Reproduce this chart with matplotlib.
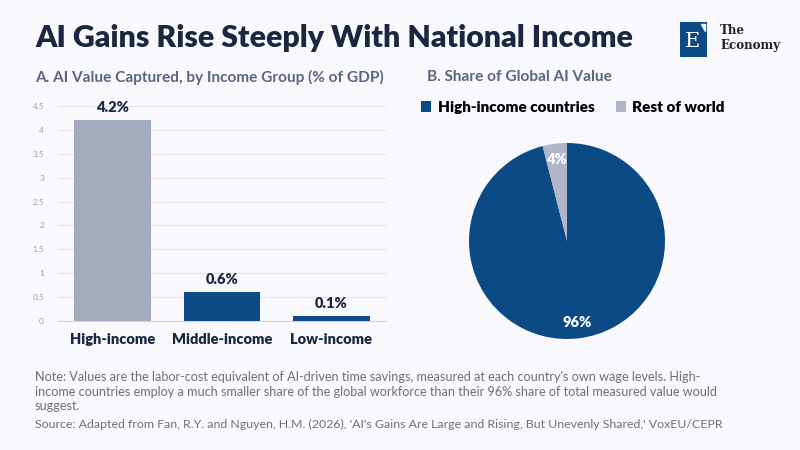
import matplotlib
matplotlib.use("Agg")
import matplotlib.pyplot as plt
from matplotlib.patches import Rectangle

categories = ["High-income", "Middle-income", "Low-income"]
values = [4.2, 0.6, 0.1]
value_labels = ["4.2%", "0.6%", "0.1%"]
yticks = [0, 0.5, 1, 1.5, 2, 2.5, 3, 3.5, 4, 4.5]

pie_labels = ["High-income countries", "Rest of world"]
pie_values = [96, 4]

BG = "#f8f8fd"
NAVY = "#0c4a86"
GRAY_BAR = "#a2aabe"
GRAY_PIE = "#b0b5c7"
DARK = "#1b2640"
SUB = "#5b6580"
NOTE = "#6b7080"

plt.rcParams['font.family'] = ['Lato', 'DejaVu Sans']

W, H = 800, 450
fig = plt.figure(figsize=(8, 4.5), dpi=100, facecolor=BG)

def fx(x): return x / W
def fy(y): return 1 - y / H

fig.text(fx(35), fy(38), "AI Gains Rise Steeply With National Income", fontsize=21.8,
         fontweight='heavy', color=DARK, va='center', ha='left')

# logo
logo = fig.add_axes([fx(680), fy(57), 27 / W, 35 / H])
logo.set_xlim(0, 1); logo.set_ylim(0, 1); logo.axis('off')
logo.add_patch(Rectangle((0, 0), 1, 1, color=NAVY))
logo.text(0.45, 0.45, "E", color='white', fontsize=15, family='DejaVu Serif', ha='center', va='center')
logo.add_patch(plt.Polygon([[0.78, 0.93], [0.93, 0.93], [0.93, 0.75]], color='white'))
fig.text(fx(720), fy(31), "The", fontsize=8.6, family='DejaVu Serif', fontweight='bold', color='#222', va='center', ha='left')
fig.text(fx(720), fy(46), "Economy", fontsize=8.6, family='DejaVu Serif', fontweight='bold', color='#222', va='center', ha='left')

# subtitles
fig.text(fx(35), fy(77), "A. AI Value Captured, by Income Group (% of GDP)", fontsize=11.1,
         fontweight='bold', color=SUB, va='center', ha='left')
fig.text(fx(427), fy(77), "B. Share of Global AI Value", fontsize=11.1,
         fontweight='bold', color=SUB, va='center', ha='left')

# bar chart
ax = fig.add_axes([fx(58), fy(321), (386 - 58) / W, (321 - 106) / H])
ax.set_facecolor(BG)
colors = [GRAY_BAR, NAVY, NAVY]
x = range(len(categories))
ax.bar(x, values, width=0.7, color=colors, zorder=3)
ax.set_xlim(-0.5, 2.5)
ax.set_ylim(0, 4.5)
ax.set_yticks(yticks)
ax.set_yticklabels([f"{t:g}" for t in yticks])
ax.tick_params(axis='y', length=0, labelsize=6, labelcolor='#9aa0b4', pad=10)
ax.set_xticks(list(x))
ax.set_xticklabels(categories)
ax.tick_params(axis='x', length=0, labelsize=10.5, labelcolor=DARK, pad=9)
for lab in ax.get_xticklabels():
    lab.set_fontweight('heavy')
ax.grid(axis='y', color='#e2e4ec', linewidth=0.8, zorder=0)
for s in ['top', 'right', 'left']:
    ax.spines[s].set_visible(False)
ax.spines['bottom'].set_color('#cfd3de')
for xi, v, lab in zip(x, values, value_labels):
    ax.text(xi, v + 0.14, lab, ha='center', va='bottom', fontsize=10.5, fontweight='heavy', color=DARK)

# pie chart
pax = fig.add_axes([fx(469), fy(339), 196 / W, 196 / H])
wedges, texts, autotexts = pax.pie(pie_values, colors=[NAVY, GRAY_PIE], startangle=90,
                                    counterclock=False, autopct='%d%%', pctdistance=0.84,
                                    radius=1.0, wedgeprops=dict(linewidth=0))
for t in autotexts:
    t.set_color('white'); t.set_fontweight('heavy'); t.set_fontsize(10.5)
pax.set_xlim(-1, 1); pax.set_ylim(-1, 1)
pax.set_aspect('equal')

# legend
fig.legend(wedges, pie_labels, loc='center left', bbox_to_anchor=(fx(407), fy(107)), ncol=2,
           frameon=False, handlelength=0.7, handleheight=0.7, handletextpad=0.4,
           columnspacing=1.4, prop=dict(weight='heavy', size=11))

note = ("Note: Values are the labor-cost equivalent of AI-driven time savings, measured at each country's own wage levels. High-\n"
        "income countries employ a much smaller share of the global workforce than their 96% share of total measured value would\n"
        "suggest.")
fig.text(fx(35), fy(371), note, fontsize=9.1, color=NOTE, va='top', ha='left', linespacing=1.25)
fig.text(fx(35), fy(424), "Source: Adapted from Fan, R.Y. and Nguyen, H.M. (2026), 'AI's Gains Are Large and Rising, But Unevenly Shared,' VoxEU/CEPR",
         fontsize=8.9, color=NOTE, va='center', ha='left')

fig.savefig("out.png", dpi=100, facecolor=BG)
